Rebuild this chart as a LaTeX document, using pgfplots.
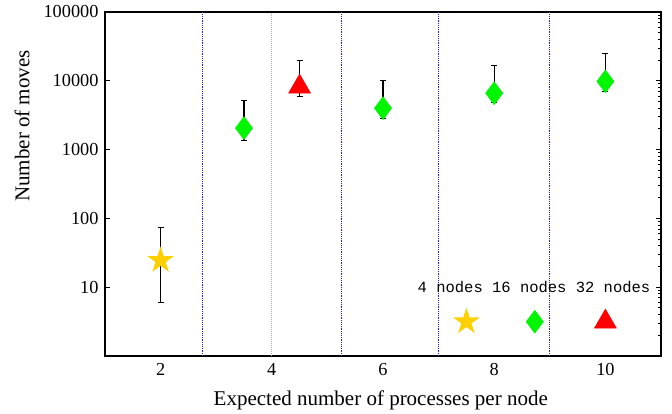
\documentclass[border=0pt]{standalone}
\usepackage{fontspec}
\setmainfont{Liberation Serif}
\newfontfamily\monofont{Liberation Mono}
\usepackage{pgfplots}
\pgfplotsset{compat=1.18}
\definecolor{sgold}{RGB}{255,208,0}
\definecolor{sgreen}{RGB}{0,245,0}
\definecolor{sred}{RGB}{255,0,0}
\definecolor{vblue}{RGB}{30,30,210}
\pgfdeclareplotmark{fstar}{%
  \pgfpathmoveto{\pgfpointpolar{90}{\pgfplotmarksize}}%
  \pgfpathlineto{\pgfpointpolar{126}{0.382\pgfplotmarksize}}%
  \pgfpathlineto{\pgfpointpolar{162}{\pgfplotmarksize}}%
  \pgfpathlineto{\pgfpointpolar{198}{0.382\pgfplotmarksize}}%
  \pgfpathlineto{\pgfpointpolar{234}{\pgfplotmarksize}}%
  \pgfpathlineto{\pgfpointpolar{270}{0.382\pgfplotmarksize}}%
  \pgfpathlineto{\pgfpointpolar{306}{\pgfplotmarksize}}%
  \pgfpathlineto{\pgfpointpolar{342}{0.382\pgfplotmarksize}}%
  \pgfpathlineto{\pgfpointpolar{18}{\pgfplotmarksize}}%
  \pgfpathlineto{\pgfpointpolar{54}{0.382\pgfplotmarksize}}%
  \pgfpathclose
  \pgfusepathqfill}
\pgfplotstableread{
x y ep em
2 24.5 49.5 18.5
}\starT
\pgfplotstableread{
x y ep em
3.5 2050 3100 700
6 4000 6200 1170
8 6600 10100 1770
10 9800 15500 2800
}\diaT
\pgfplotstableread{
x y ep em
4.5 8200 11300 2350
}\triT
\begin{document}
\begin{tikzpicture}
\useasboundingbox (-105pt,-57pt) rectangle (567pt,356pt);
\begin{axis}[
  at={(0,0)}, anchor=south west,
  scale only axis, width=556pt, height=344pt,
  xmin=1, xmax=11, ymode=log, ymin=1, ymax=100000,
  xtick={2,4,6,8,10}, xtick style={draw=none},
  ytick={10,100,1000,10000,100000},
  yticklabels={10,100,1000,10000,100000},
  yminorticks=false, ytick pos=left,
  major tick length=5pt,
  tick style={black, line width=0.9pt},
  axis line style={black, line width=1.2pt},
  /pgf/number format/assume math mode=true,
  tick label style={font=\fontsize{18.3}{20}\selectfont},
  xticklabel style={yshift=-4pt},
  yticklabel style={xshift=-3pt},
  label style={font=\fontsize{21}{24}\selectfont},
  xlabel={Expected number of processes per node},
  ylabel={Number of moves},
  xlabel style={at={(axis description cs:0.496,-0.128)}, anchor=center},
  ylabel style={at={(axis description cs:-0.1493,0.6686)}, anchor=center},
  clip=false,
]
\addplot[vblue, densely dotted, line width=1.2pt] coordinates {(2.75,1) (2.75,100000)};
\addplot[vblue, densely dotted, line width=1.2pt] coordinates {(5.25,1) (5.25,100000)};
\addplot[vblue, densely dotted, line width=1.2pt] coordinates {(7,1) (7,100000)};
\addplot[vblue, densely dotted, line width=1.2pt] coordinates {(9,1) (9,100000)};
\addplot[gray!60, densely dotted, line width=1pt] coordinates {(4,1) (4,100000)};
\addplot[only marks, mark=fstar, mark size=14pt, color=sgold,
  error bars/.cd, y dir=both, y explicit,
  error bar style={black, line width=1.1pt},
  error mark options={black, rotate=90, mark size=3pt, line width=1.1pt}]
  table[x=x, y=y, y error plus=ep, y error minus=em] {\starT};
\addplot[only marks, mark=diamond*, mark size=11.5pt, color=sgreen,
  error bars/.cd, y dir=both, y explicit,
  error bar style={black, line width=1.1pt},
  error mark options={black, rotate=90, mark size=3pt, line width=1.1pt}]
  table[x=x, y=y, y error plus=ep, y error minus=em] {\diaT};
\addplot[only marks, mark=triangle*, mark size=12.7pt, color=sred,
  error bars/.cd, y dir=both, y explicit,
  error bar style={black, line width=1.1pt},
  error mark options={black, rotate=90, mark size=3pt, line width=1.1pt}]
  table[x=x, y=y, y error plus=ep, y error minus=em] {\triT};
\addplot[only marks, mark=fstar, mark size=14pt, color=sgold] coordinates {(7.5,3.15)};
\addplot[only marks, mark=diamond*, mark size=11.5pt, color=sgreen] coordinates {(8.73,3.15)};
\addplot[only marks, mark=triangle*, mark size=12.7pt, color=sred] coordinates {(10,3.15)};
\node[font=\monofont\fontsize{15.5}{17}\selectfont, anchor=center] at (axis cs:8.716,10) {4 nodes 16 nodes 32 nodes};
\end{axis}
\begin{axis}[
  at={(0,0)}, anchor=south west,
  scale only axis, width=556pt, height=344pt,
  xmin=1, xmax=11, ymode=log, ymin=1, ymax=100000,
  axis x line=none, axis y line*=right,
  ytick={1,10,100,1000,10000,100000}, yticklabels={},
  major tick length=5pt, minor tick length=3pt,
  tick style={black, line width=0.9pt},
  axis line style={black, line width=1.2pt, -},
]
\addplot[draw=none] coordinates {(2,10)};
\end{axis}
\end{tikzpicture}
\end{document}
